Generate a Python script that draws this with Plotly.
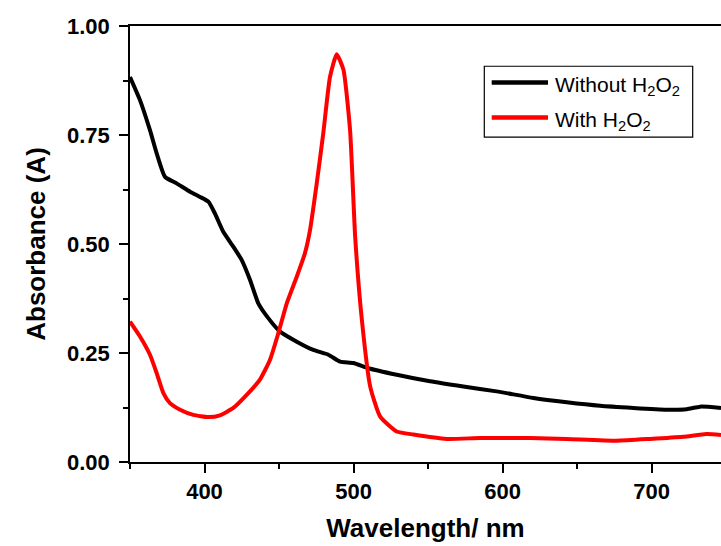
import plotly.graph_objects as go

# Without H2O2 (black)
wl_black = [350, 356.7, 363.4, 367.9, 373.5, 381.3, 390.3, 397, 402.6, 407, 412.6, 419.3,
            425, 430.5, 436.1, 442.8, 450.7, 461.9, 473, 483.1, 491, 499.9, 510, 529,
            551.3, 573.7, 596, 620.7, 643.1, 665.4, 687.8, 710.2, 723.6, 732.6, 746.6]
abs_black = [0.883, 0.830, 0.761, 0.708, 0.654, 0.639, 0.620, 0.608, 0.597, 0.570, 0.528, 0.494,
             0.463, 0.418, 0.364, 0.330, 0.299, 0.276, 0.257, 0.246, 0.230, 0.227, 0.215, 0.200,
             0.185, 0.173, 0.162, 0.147, 0.137, 0.129, 0.124, 0.120, 0.121, 0.127, 0.124]

# With H2O2 (red)
wl_red = [350, 356.7, 363.4, 367.9, 372.4, 376.8, 383.6, 392.5, 402.6, 410.4, 419.3, 428.3,
          437.2, 443.9, 449.5, 455.2, 461.9, 467.4, 470.8, 475.3, 479.7, 484.2, 488.7, 493.2,
          497.7, 501.1, 505.6, 511.2, 517.9, 529, 540.2, 562.6, 585, 618.5, 643, 676.6,
          699, 721.3, 737, 746.6]
abs_red = [0.322, 0.288, 0.246, 0.204, 0.158, 0.135, 0.120, 0.108, 0.103, 0.107, 0.124, 0.154,
           0.189, 0.234, 0.295, 0.364, 0.425, 0.479, 0.532, 0.639, 0.754, 0.883, 0.935, 0.900,
           0.760, 0.517, 0.326, 0.173, 0.104, 0.070, 0.063, 0.053, 0.055, 0.055, 0.053, 0.049,
           0.053, 0.058, 0.064, 0.062]

legend_labels = ["Without H<sub>2</sub>O<sub>2</sub>", "With H<sub>2</sub>O<sub>2</sub>"]
colors = ["#000000", "#ff0000"]

x_range = [350, 746.6]
y_range = [0, 1.0]

fig = go.Figure()
fig.add_trace(go.Scatter(x=wl_black, y=abs_black, mode="lines", name=legend_labels[0],
                         line=dict(color=colors[0], width=4, shape="spline", smoothing=0.5)))
fig.add_trace(go.Scatter(x=wl_red, y=abs_red, mode="lines", name=legend_labels[1],
                         line=dict(color=colors[1], width=4, shape="spline", smoothing=0.5)))

axis_font = dict(family="Liberation Sans, Arial, sans-serif", size=22, color="black", weight="bold")
title_font = dict(family="Liberation Sans, Arial, sans-serif", size=26, color="black", weight="bold")

fig.update_xaxes(range=x_range, tick0=400, dtick=100, ticks="outside", ticklen=9, tickwidth=1.5,
                 tickcolor="black", showline=True, linecolor="black", linewidth=1.5,
                 mirror=True, showgrid=False, zeroline=False, tickfont=axis_font,
                 minor=dict(dtick=50, tick0=350, ticks="outside", ticklen=5, tickwidth=1.5,
                            tickcolor="black", showgrid=False),
                 title=dict(text="Wavelength/ nm", font=title_font, standoff=16))
fig.update_yaxes(range=y_range, tick0=0, dtick=0.25, tickformat=".2f", ticks="outside", ticklen=9,
                 tickwidth=1.5, tickcolor="black", showline=True, linecolor="black", linewidth=1.5,
                 showgrid=False, zeroline=False, tickfont=axis_font, ticklabelstandoff=5,
                 minor=dict(dtick=0.125, tick0=0, ticks="outside", ticklen=5, tickwidth=1.5,
                            tickcolor="black", showgrid=False),
                 title=dict(text="Absorbance (A)", font=title_font, standoff=14))

# manual legend box
fig.add_shape(type="rect", xref="paper", yref="paper", x0=0.5995, x1=0.9521, y0=0.745, y1=0.9077,
              line=dict(color="black", width=1.2), fillcolor="white")
rows_y = [0.8703, 0.790]
for lab, col, yy in zip(legend_labels, colors, rows_y):
    fig.add_shape(type="line", xref="paper", yref="paper", x0=0.612, x1=0.7073, y0=yy, y1=yy,
                  line=dict(color=col, width=4.5))
    fig.add_annotation(xref="paper", yref="paper", x=0.7157, y=yy - 0.008, text=lab, showarrow=False,
                       xanchor="left", yanchor="middle",
                       font=dict(family="Liberation Sans, Arial, sans-serif", size=21, color="black"))

fig.update_layout(width=721, height=546, margin=dict(l=130, r=0, t=26, b=84),
                  paper_bgcolor="white", plot_bgcolor="white", showlegend=False)

fig.write_html("out.html")
